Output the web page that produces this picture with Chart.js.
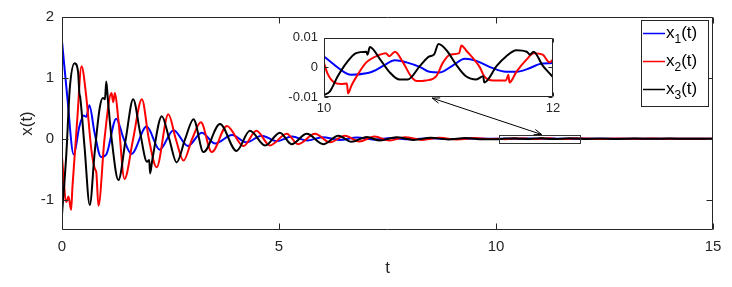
<!DOCTYPE html>
<html>
<head>
<meta charset="utf-8">
<script src="https://cdn.jsdelivr.net/npm/chart.js@4.4.0/dist/chart.umd.min.js"></script>
<style>
  body { margin: 0; background: #fff; }
  #wrap { position: relative; width: 732px; height: 287px; }
  #mainChart { position: absolute; left: 0; top: 0; }
  #insetChart { position: absolute; left: 260px; top: 24px; }
</style>
</head>
<body>
<div id="wrap">
  <canvas id="mainChart" width="732" height="287"></canvas>
  <canvas id="insetChart" width="310" height="96"></canvas>
</div>
<script>
// series names and subscripts
const seriesSubs = ['1', '2', '3'];
const seriesColors = ['#0000ff', '#ff0000', '#000000'];

// main plot, 0..10 s
const x1T = [0, 0.12, 0.27, 0.4, 0.5, 0.56, 0.63, 0.75, 0.9, 1.02, 1.25, 1.42, 1.6, 1.95, 2.25, 2.57, 2.9, 3.22, 3.53, 3.92, 4.25, 4.6, 4.95, 5.3, 5.65, 6.0, 6.4, 6.8, 7.2, 7.6, 8.0, 8.5, 9.0, 9.5];
const x1Y = [1.6, 0.7, -0.26, 0.2, 0.38, 0.36, 0.55, 0.1, -0.3, -0.26, 0.33, 0.0, -0.25, 0.2, -0.18, 0.14, -0.12, 0.1, -0.08, 0.06, -0.06, 0.05, -0.04, 0.035, -0.03, 0.025, -0.02, 0.018, -0.015, 0.012, -0.01, 0.008, -0.006, 0.005];

const x2T = [0, 0.1, 0.15, 0.21, 0.24, 0.35, 0.45, 0.55, 0.68, 0.76, 0.79, 0.84, 0.98, 1.14, 1.18, 1.22, 1.3, 1.44, 1.64, 1.84, 2.0, 2.18, 2.45, 2.62, 2.8, 3.0, 3.2, 3.45, 3.8, 4.18, 4.48, 4.79, 5.18, 5.44, 5.83, 6.17, 6.52, 6.85, 7.2, 7.55, 7.9, 8.3, 8.7, 9.1, 9.5, 9.8];
const x2Y = [-0.3, -1.04, -0.95, -1.17, -0.8, 0.3, 1.19, 0.75, -0.2, -0.5, -0.55, -1.1, 0.0, 0.75, 0.6, 0.75, 0.3, -0.66, 0.0, 0.65, 0.0, -0.47, 0.4, 0.0, -0.36, 0.0, 0.27, -0.22, 0.21, -0.12, 0.13, -0.11, 0.08, -0.09, 0.08, -0.06, 0.05, -0.045, 0.035, -0.03, 0.025, -0.02, 0.016, -0.013, 0.01, -0.006];

const x3T = [0, 0.1, 0.18, 0.29, 0.37, 0.4, 0.42, 0.52, 0.64, 0.75, 0.87, 0.94, 0.99, 1.02, 1.06, 1.14, 1.3, 1.47, 1.64, 1.8, 1.96, 2.01, 2.03, 2.08, 2.3, 2.47, 2.64, 2.84, 3.03, 3.26, 3.64, 4.02, 4.33, 4.68, 5.02, 5.29, 5.64, 6.02, 6.37, 6.67, 7.02, 7.33, 7.7, 8.1, 8.5, 8.9, 9.3, 9.7];
const x3Y = [-1.25, -0.25, 0.83, 1.24, 1.1, 0.75, 0.68, -0.14, -1.09, -0.25, 0.51, 0.67, 0.65, 0.94, 0.62, 0.02, -0.68, 0.0, 0.65, 0.1, -0.38, -0.35, -0.57, -0.35, 0.37, 0.0, -0.39, 0.0, 0.32, -0.22, 0.24, -0.2, 0.13, -0.11, 0.1, -0.09, 0.08, -0.09, 0.05, -0.05, 0.03, -0.03, 0.025, -0.02, 0.015, -0.012, 0.01, -0.008];

// zoomed window, 10..12 s
const z1T = [10, 10.195, 10.24, 10.37, 10.43, 10.52, 10.62, 10.72, 10.84, 10.92, 11.01, 11.13, 11.23, 11.33, 11.45, 11.59, 11.68, 11.8, 11.88, 12];
const z1Y = [0.0037, -0.002, -0.0025, -0.002, -0.0013, 0.0006, 0.0024, 0.0017, 0.0001, -0.0015, -0.0017, 0.0008, 0.0029, 0.0022, 0.0001, -0.0015, -0.0015, -0.0002, 0.0011, 0.0015];

const z2T = [10, 10.03, 10.09, 10.15, 10.2, 10.21, 10.24, 10.31, 10.37, 10.49, 10.54, 10.57, 10.62, 10.69, 10.76, 10.81, 10.89, 10.98, 11.04, 11.1, 11.18, 11.2, 11.24, 11.36, 11.4, 11.48, 11.59, 11.61, 11.62, 11.68, 11.77, 11.83, 11.91, 11.97, 12];
const z2Y = [0.0015, -0.002, -0.0051, -0.0056, -0.0054, -0.0088, -0.0061, -0.0015, 0.0017, 0.0043, 0.0048, 0.0038, 0.0053, 0.0017, -0.003, -0.0046, -0.0044, -0.003, 0.0017, 0.0043, 0.0048, 0.0074, 0.0058, 0.0001, -0.003, -0.0044, -0.0044, -0.0025, -0.0051, -0.0015, 0.0027, 0.0048, 0.0043, 0.0017, 0.0027];

const z3T = [10, 10.05, 10.12, 10.2, 10.28, 10.37, 10.38, 10.4, 10.49, 10.57, 10.66, 10.73, 10.84, 10.92, 10.96, 11.0, 11.07, 11.16, 11.24, 11.33, 11.39, 11.4, 11.51, 11.59, 11.68, 11.77, 11.8, 11.83, 11.91, 11.97, 12];
const z3Y = [-0.0093, -0.0082, -0.003, 0.0017, 0.0048, 0.0053, 0.0043, 0.0069, 0.0027, -0.0015, -0.0041, -0.0041, 0.0006, 0.0037, 0.0043, 0.0079, 0.0058, 0.0006, -0.003, -0.0041, -0.003, -0.0051, 0.0006, 0.0037, 0.0058, 0.0053, 0.0043, 0.0053, 0.0006, -0.002, -0.0033];

// after the window, 12..15 s
const tailT = [12.4, 12.8, 13.2, 13.6, 14.0, 14.4, 14.8, 15];
const tail1 = [-0.001, 0.001, -0.0008, 0.0007, -0.0006, 0.0005, -0.0004, 0.0003];
const tail2 = [-0.003, 0.0025, -0.002, 0.0018, -0.0015, 0.0012, -0.001, 0.0008];
const tail3 = [0.003, -0.0028, 0.0022, -0.002, 0.0016, -0.0013, 0.001, -0.0008];

// ticks
const xTicks = [0, 5, 10, 15];
const yTicks = [-1, 0, 1, 2];
const zxTicks = [10, 12];
const zyTicks = [-0.01, 0, 0.01];

const FONT = '"Liberation Sans", Arial, sans-serif';
Chart.defaults.font.family = FONT;
Chart.defaults.color = '#262626';

function pts(ts, ys) { return ts.map((t, i) => ({ x: t, y: ys[i] })); }

const mainSeries = [
  pts(x1T.concat(z1T.slice(1), tailT), x1Y.concat(z1Y.slice(1), tail1)),
  pts(x2T.concat(z2T.slice(1), tailT), x2Y.concat(z2Y.slice(1), tail2)),
  pts(x3T.concat(z3T.slice(1), tailT), x3Y.concat(z3Y.slice(1), tail3))
];
const zoomSeries = [pts(z1T, z1Y), pts(z2T, z2Y), pts(z3T, z3Y)];

function makeDatasets(series, width) {
  return series.map((d, i) => ({
    label: 'x' + seriesSubs[i] + '(t)',
    data: d,
    borderColor: seriesColors[i],
    borderWidth: width,
    pointRadius: 0,
    cubicInterpolationMode: 'monotone',
    order: 2 - i
  }));
}

// box with inward ticks, MATLAB style
const boxPlugin = {
  id: 'box',
  beforeDatasetsDraw(chart) {
    const { ctx, chartArea: a } = chart;
    ctx.save();
    ctx.fillStyle = '#fff';
    ctx.fillRect(a.left, a.top, a.right - a.left, a.bottom - a.top);
    ctx.restore();
  },
  afterDatasetsDraw(chart, args, opts) {
    const { ctx, chartArea: a, scales: { x, y } } = chart;
    const len = opts.tick || 6;
    ctx.save();
    ctx.strokeStyle = '#262626';
    ctx.lineWidth = 1;
    const L = Math.round(a.left) + 0.5, R = Math.round(a.right) - 0.5;
    const T = Math.round(a.top) + 0.5, B = Math.round(a.bottom) - 0.5;
    ctx.beginPath();
    ctx.rect(L, T, R - L, B - T);
    x.ticks.forEach(t => {
      const px = Math.round(x.getPixelForValue(t.value)) + 0.5;
      ctx.moveTo(px, B); ctx.lineTo(px, B - len);
      ctx.moveTo(px, T); ctx.lineTo(px, T + len);
    });
    y.ticks.forEach(t => {
      const py = Math.round(y.getPixelForValue(t.value)) + 0.5;
      ctx.moveTo(L, py); ctx.lineTo(L + len, py);
      ctx.moveTo(R, py); ctx.lineTo(R - len, py);
    });
    ctx.stroke();
    ctx.restore();
  }
};

// zoom rectangle, arrow and legend on the main plot
const notePlugin = {
  id: 'notes',
  afterDraw(chart) {
    const { ctx, scales: { x, y } } = chart;
    ctx.save();
    ctx.strokeStyle = '#333';
    ctx.lineWidth = 1;
    const rx0 = x.getPixelForValue(10.07), rx1 = x.getPixelForValue(11.93);
    const ry0 = y.getPixelForValue(0.065), ry1 = y.getPixelForValue(-0.07);
    ctx.strokeRect(Math.round(rx0) + 0.5, Math.round(ry0) + 0.5, Math.round(rx1 - rx0), Math.round(ry1 - ry0));

    // double arrow from inset to rectangle
    const ax0 = x.getPixelForValue(8.53), ay0 = y.getPixelForValue(0.667);
    const ax1 = x.getPixelForValue(11.05), ay1 = y.getPixelForValue(0.07);
    ctx.strokeStyle = '#000';
    ctx.beginPath();
    ctx.moveTo(ax0, ay0); ctx.lineTo(ax1, ay1);
    const ang = Math.atan2(ay1 - ay0, ax1 - ax0);
    [[ax1, ay1, ang], [ax0, ay0, ang + Math.PI]].forEach(([hx, hy, a]) => {
      ctx.moveTo(hx - 8 * Math.cos(a - 0.35), hy - 8 * Math.sin(a - 0.35));
      ctx.lineTo(hx, hy);
      ctx.lineTo(hx - 8 * Math.cos(a + 0.35), hy - 8 * Math.sin(a + 0.35));
    });
    ctx.stroke();

    // legend
    const lx = 641, ly = 20, lw = 67, lh = 86;
    ctx.fillStyle = '#fff';
    ctx.fillRect(lx, ly, lw, lh);
    ctx.strokeStyle = '#262626';
    ctx.strokeRect(lx + 0.5, ly + 0.5, lw, lh);
    chart.data.datasets.forEach((ds, i) => {
      const cy = 33.5 + i * 28;
      ctx.strokeStyle = ds.borderColor;
      ctx.lineWidth = 1.5;
      ctx.beginPath();
      ctx.moveTo(643, cy); ctx.lineTo(665, cy);
      ctx.stroke();
      ctx.fillStyle = '#000';
      ctx.textBaseline = 'alphabetic';
      ctx.textAlign = 'left';
      let tx = 666;
      const base = cy + 4;
      ctx.font = '17px ' + FONT;
      ctx.fillText('x', tx, base);
      tx += ctx.measureText('x').width;
      ctx.font = '12px ' + FONT;
      ctx.fillText(seriesSubs[i], tx, base + 5);
      tx += ctx.measureText(seriesSubs[i]).width;
      ctx.font = '17px ' + FONT;
      ctx.fillText('(t)', tx, base);
    });
    ctx.restore();
  }
};

new Chart(document.getElementById('mainChart'), {
  type: 'line',
  data: { datasets: makeDatasets(mainSeries, 2) },
  options: {
    responsive: false,
    animation: false,
    devicePixelRatio: 1,
    layout: { padding: { top: 16, right: 19, left: 0, bottom: 0 } },
    plugins: { legend: { display: false }, tooltip: { enabled: false }, box: { tick: 6 } },
    scales: {
      x: {
        type: 'linear', min: 0, max: 15,
        afterBuildTicks: s => { s.ticks = xTicks.map(v => ({ value: v })); },
        afterFit: s => { s.height = 57; },
        grid: { display: false, drawTicks: false },
        border: { display: false },
        ticks: { font: { size: 15 }, padding: 8, color: '#262626', maxRotation: 0 },
        title: { display: true, text: 't', font: { size: 17 }, color: '#262626', padding: { top: 0, bottom: 8 } }
      },
      y: {
        min: -1.5, max: 2,
        afterBuildTicks: s => { s.ticks = yTicks.map(v => ({ value: v })); },
        afterFit: s => { s.width = 62; },
        grid: { display: false, drawTicks: false },
        border: { display: false },
        ticks: { font: { size: 15 }, padding: 8, color: '#262626' },
        title: { display: true, text: 'x(t)', font: { size: 17 }, color: '#262626', padding: { top: 17, bottom: 0 } }
      }
    }
  },
  plugins: [boxPlugin, notePlugin]
});

new Chart(document.getElementById('insetChart'), {
  type: 'line',
  data: { datasets: makeDatasets(zoomSeries, 2) },
  options: {
    responsive: false,
    animation: false,
    devicePixelRatio: 1,
    layout: { padding: { top: 9, right: 17, left: 0, bottom: 0 } },
    plugins: { legend: { display: false }, tooltip: { enabled: false }, box: { tick: 4 } },
    scales: {
      x: {
        type: 'linear', min: 10, max: 12,
        afterBuildTicks: s => { s.ticks = zxTicks.map(v => ({ value: v })); },
        afterFit: s => { s.height = 23; },
        grid: { display: false, drawTicks: false },
        border: { display: false },
        ticks: { font: { size: 13 }, padding: 4, color: '#262626', maxRotation: 0 }
      },
      y: {
        min: -0.01, max: 0.01,
        afterBuildTicks: s => { s.ticks = zyTicks.map(v => ({ value: v })); },
        afterFit: s => { s.width = 64; },
        grid: { display: false, drawTicks: false },
        border: { display: false },
        ticks: { font: { size: 13 }, padding: 6, color: '#262626', callback: v => String(v) }
      }
    }
  },
  plugins: [boxPlugin]
});
</script>
</body>
</html>
